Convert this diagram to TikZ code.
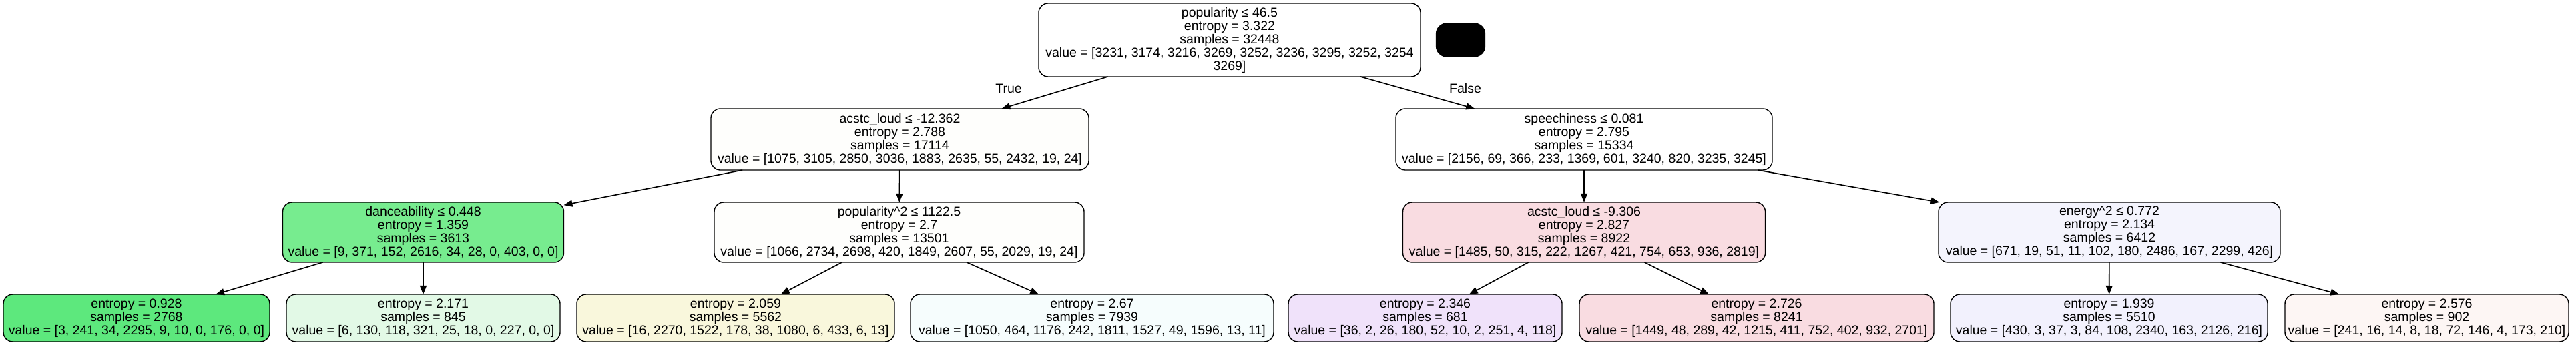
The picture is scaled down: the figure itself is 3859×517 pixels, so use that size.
\documentclass[tikz,border=0pt]{standalone}
\usepackage{fontspec}
\setmainfont{Liberation Sans}
\usetikzlibrary{arrows.meta}
\definecolor{cGreenA}{RGB}{119,236,143}
\definecolor{cGreenB}{RGB}{93,232,125}
\definecolor{cGreenC}{RGB}{226,249,230}
\definecolor{cYellow}{RGB}{249,247,220}
\definecolor{cCyan}{RGB}{246,253,253}
\definecolor{cPurple}{RGB}{240,226,250}
\definecolor{cPink}{RGB}{249,220,225}
\definecolor{cLav}{RGB}{242,241,253}
\definecolor{cLavB}{RGB}{244,244,253}
\definecolor{cPeach}{RGB}{253,246,244}
\definecolor{cOff}{RGB}{254,254,252}
\tikzset{
  bw/.style={minimum width=#1*0.5pt},
  bh/.style={minimum height=#1*0.5pt},
  tn/.style={draw=black, line width=0.7pt, rounded corners=7pt, inner sep=0pt, outer sep=0pt,
    align=center, font=\fontsize{9.75}{10}\selectfont, text=black, fill=white},
  lbl/.style={inner sep=0pt, font=\fontsize{9.75}{10}\selectfont},
  conn/.style={draw, line width=0.8pt, -{Triangle[length=6.5pt,width=5pt]}},
}
\begin{document}
\begin{tikzpicture}[x=0.5pt,y=-0.5pt]
\useasboundingbox (0,0) rectangle (3859,517);
% root
\node[tn, bw=572, bh=110] (root) at (1842,60)
  {popularity ≤ 46.5\\entropy = 3.322\\samples = 32448\\value = [3231, 3174, 3216, 3269, 3252, 3236, 3295, 3252, 3254\\3269]};
\node[tn, fill=black, rounded corners=8pt, bw=73, bh=50] (blob) at (2188,60) {};
% level 1
\node[tn, fill=cOff, bw=566, bh=92] (la) at (1348,209)
  {acstc\_loud ≤ -12.362\\entropy = 2.788\\samples = 17114\\value = [1075, 3105, 2850, 3036, 1883, 2635, 55, 2432, 19, 24]};
\node[tn, bw=564, bh=92] (lb) at (2373,209)
  {speechiness ≤ 0.081\\entropy = 2.795\\samples = 15334\\value = [2156, 69, 366, 233, 1369, 601, 3240, 820, 3235, 3245]};
% level 2
\node[tn, fill=cGreenA, bw=421, bh=90] (ma) at (634,348)
  {danceability ≤ 0.448\\entropy = 1.359\\samples = 3613\\value = [9, 371, 152, 2616, 34, 28, 0, 403, 0, 0]};
\node[tn, fill=cOff, bw=554, bh=90] (mb) at (1347,348)
  {popularity\textasciicircum 2 ≤ 1122.5\\entropy = 2.7\\samples = 13501\\value = [1066, 2734, 2698, 420, 1849, 2607, 55, 2029, 19, 24]};
\node[tn, fill=cPink, bw=543, bh=90] (mc) at (2373,348)
  {acstc\_loud ≤ -9.306\\entropy = 2.827\\samples = 8922\\value = [1485, 50, 315, 222, 1267, 421, 754, 653, 936, 2819]};
\node[tn, fill=cLavB, bw=512, bh=90] (md) at (3160,348)
  {energy\textasciicircum 2 ≤ 0.772\\entropy = 2.134\\samples = 6412\\value = [671, 19, 51, 11, 102, 180, 2486, 167, 2299, 426]};
% leaves
\node[tn, fill=cGreenB, bw=399, bh=71] (f1) at (204.5,476.5)
  {entropy = 0.928\\samples = 2768\\value = [3, 241, 34, 2295, 9, 10, 0, 176, 0, 0]};
\node[tn, fill=cGreenC, bw=410, bh=71] (f2) at (634,476.5)
  {entropy = 2.171\\samples = 845\\value = [6, 130, 118, 321, 25, 18, 0, 227, 0, 0]};
\node[tn, fill=cYellow, bw=476, bh=71] (f3) at (1102,476.5)
  {entropy = 2.059\\samples = 5562\\value = [16, 2270, 1522, 178, 38, 1080, 6, 433, 6, 13]};
\node[tn, fill=cCyan, bw=544, bh=71] (f4) at (1636,476.5)
  {entropy = 2.67\\samples = 7939\\value = [1050, 464, 1176, 242, 1811, 1527, 49, 1596, 13, 11]};
\node[tn, fill=cPurple, bw=410, bh=71] (f5) at (2135,476.5)
  {entropy = 2.346\\samples = 681\\value = [36, 2, 26, 180, 52, 10, 2, 251, 4, 118]};
\node[tn, fill=cPink, bw=531, bh=71] (f6) at (2631.5,476.5)
  {entropy = 2.726\\samples = 8241\\value = [1449, 48, 289, 42, 1215, 411, 752, 402, 932, 2701]};
\node[tn, fill=cLav, bw=475, bh=71] (f7) at (3159.5,476.5)
  {entropy = 1.939\\samples = 5510\\value = [430, 3, 37, 3, 84, 108, 2340, 163, 2126, 216]};
\node[tn, fill=cPeach, bw=425, bh=71] (f8) at (3635.5,476.5)
  {entropy = 2.576\\samples = 902\\value = [241, 16, 14, 8, 18, 72, 146, 4, 173, 210]};
% labels
\node[lbl] (ltrue) at (1511,133) {True};
\node[lbl] (lfalse) at (2195,133) {False};
% connectors
\draw[conn] (root) -- (la);
\draw[conn] (root) -- (lb);
\draw[conn] (la) -- (ma);
\draw[conn] (la) -- (mb);
\draw[conn] (lb) -- (mc);
\draw[conn] (lb) -- (md);
\draw[conn] (ma) -- (f1);
\draw[conn] (ma) -- (f2);
\draw[conn] (mb) -- (f3);
\draw[conn] (mb) -- (f4);
\draw[conn] (mc) -- (f5);
\draw[conn] (mc) -- (f6);
\draw[conn] (md) -- (f7);
\draw[conn] (md) -- (f8);
\end{tikzpicture}
\end{document}
